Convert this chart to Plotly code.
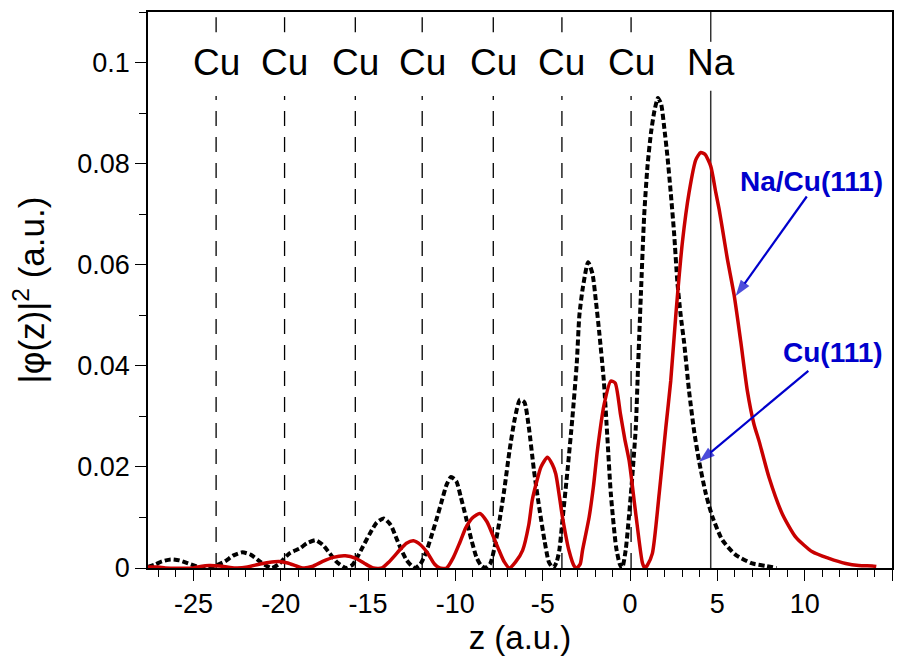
import plotly.graph_objects as go

# |phi(z)|^2 of the surface state, clean Cu(111)
cu_z = [-27.6, -27.2, -26.8, -26.3, -25.8, -25.3, -24.8, -24.3,
        -23.8, -23.2, -22.7, -22.2, -21.7, -21.2, -20.8, -20.5,
        -20.1, -19.5, -18.9, -18.5, -18.0, -17.6, -17.2, -16.8, -16.45, -16.25,
        -15.9, -15.7, -15.3, -14.9, -14.5, -14.1, -13.7, -13.4, -13.1, -12.8, -12.5, -12.3,
        -12.0, -11.7, -11.4, -11.1, -10.8, -10.5, -10.25, -9.95, -9.7, -9.4, -9.1, -8.8, -8.55, -8.3,
        -8.0, -7.7, -7.5, -7.2, -6.9, -6.6, -6.3, -6.05, -5.8, -5.5, -5.2, -4.9, -4.65, -4.4,
        -4.2, -4.05, -3.87, -3.58, -3.3, -3.05, -2.9, -2.7, -2.4, -2.15, -1.95, -1.75, -1.5,
        -1.3, -1.1, -0.8, -0.6, -0.45,
        -0.25, 0.05, 0.33, 0.45, 0.62, 0.81, 1.0, 1.2, 1.4, 1.6, 1.78, 1.95, 2.14, 2.33,
        2.52, 2.71, 2.9, 3.1, 3.38, 3.67, 3.95, 4.34, 4.72, 5.29, 6.05, 7.0, 7.8, 8.4]
cu_psi2 = [0.0002, 0.0007, 0.0013, 0.0017, 0.0015, 0.0009, 0.0003, 0.0,
           0.0004, 0.0013, 0.0025, 0.0031, 0.0026, 0.0013, 0.0004, 0.0,
           0.0008, 0.0029, 0.0039, 0.0049, 0.0055, 0.0046, 0.0029, 0.0012, 0.0003, 0.0,
           0.0006, 0.0016, 0.0042, 0.0068, 0.0090, 0.0098, 0.0085, 0.0061, 0.0036, 0.0016, 0.0004, 0.0,
           0.0008, 0.0029, 0.0060, 0.0094, 0.0130, 0.0165, 0.0180, 0.0172, 0.0142, 0.0101, 0.0058, 0.0022, 0.0006, 0.0,
           0.0009, 0.0050, 0.0088, 0.0155, 0.0232, 0.0295, 0.0333, 0.0328, 0.0280, 0.0193, 0.0120, 0.0055, 0.0012, 0.0,
           0.0012, 0.0035, 0.0094, 0.0193, 0.0297, 0.0405, 0.0500, 0.0555, 0.0605, 0.0582, 0.0527, 0.0462, 0.0370,
           0.0260, 0.0147, 0.0042, 0.0009, 0.0,
           0.0035, 0.0147, 0.0278, 0.0390, 0.0540, 0.0697, 0.0795, 0.0861, 0.0905, 0.0930, 0.0918, 0.0874, 0.0815, 0.0743,
           0.0664, 0.0566, 0.0500, 0.0445, 0.0350, 0.0271, 0.0212, 0.0147, 0.0101, 0.0055, 0.0026, 0.0009, 0.0004, 0.0]

# |phi(z)|^2 of the quantum-well state, Na/Cu(111)
na_z = [-27.6, -27.0, -26.6, -25.0, -24.6, -24.1, -23.5, -22.9, -22.5,
        -21.9, -21.3, -20.7, -20.1, -19.6, -19.1, -18.7,
        -18.2, -17.6, -17.0, -16.3, -15.7, -15.2, -14.7,
        -14.2, -13.8, -13.2, -12.8, -12.4, -12.0, -11.6, -11.2, -10.9,
        -10.5, -10.1, -9.75, -9.4, -9.0, -8.6, -8.2, -7.8, -7.5, -7.2, -6.9,
        -6.55, -6.15, -5.8, -5.6, -5.35, -5.1, -4.73, -4.45, -4.25, -3.87, -3.5, -3.2, -3.05,
        -2.85, -2.72, -2.34, -2.1, -1.87, -1.48, -1.1, -0.85, -0.55, -0.3, -0.05, 0.33, 0.71, 0.85,
        1.0, 1.28, 1.67, 2.05, 2.33, 2.62, 3.0, 3.38, 3.77, 4.05, 4.3, 4.62, 4.91, 5.1, 5.29,
        5.57, 5.96, 6.34, 6.72, 7.1, 7.39, 7.96, 8.72, 9.49, 10.44, 11.39, 12.35, 13.1, 13.87, 14.1]
na_psi2 = [0.0002, 0.0002, 0.0, 0.0, 0.0003, 0.0005, 0.0004, 0.0001, 0.0,
           0.0002, 0.0007, 0.0011, 0.0013, 0.0010, 0.0004, 0.0,
           0.0003, 0.0013, 0.0021, 0.0024, 0.0019, 0.0009, 0.0,
           0.0, 0.0012, 0.0035, 0.0049, 0.0054, 0.0046, 0.0030, 0.0008, 0.0,
           0.0, 0.0022, 0.0050, 0.0080, 0.0100, 0.0108, 0.0092, 0.0060, 0.0035, 0.0012, 0.0,
           0.0012, 0.0035, 0.0085, 0.0134, 0.0170, 0.0200, 0.0219, 0.0205, 0.0186, 0.0101, 0.0035, 0.0004, 0.0,
           0.0008, 0.0035, 0.0101, 0.0160, 0.0232, 0.0324, 0.0370, 0.0366, 0.0305, 0.0255, 0.0212, 0.0107, 0.0010, 0.0,
           0.0006, 0.0029, 0.0147, 0.0278, 0.0370, 0.0500, 0.0645, 0.0743, 0.0808, 0.0822, 0.0818, 0.0795, 0.0743, 0.0710, 0.0671,
           0.0612, 0.0540, 0.0448, 0.0350, 0.0284, 0.0251, 0.0179, 0.0107, 0.0061, 0.0032, 0.0019, 0.0009, 0.0005, 0.0004, 0.0003]

# atomic layer positions (a.u.)
cu_layers = [-23.70, -19.78, -15.73, -11.90, -7.83, -3.90, 0.06]
na_layer = 4.62

x_ticks = [-25, -20, -15, -10, -5, 0, 5, 10, 15]
x_ticktext = ["-25", "-20", "-15", "-10", "-5", "0", "5", "10", "15"]
y_ticks = [0, 0.02, 0.04, 0.06, 0.08, 0.1]
y_ticktext = ["0", "0.02", "0.04", "0.06", "0.08", "0.1"]

# pointer arrows: (tail_z, tail_y) -> (head_z, head_y)
na_arrow_z = [10.12, 6.05]
na_arrow_y = [0.0735, 0.0538]
cu_arrow_z = [10.21, 3.95]
cu_arrow_y = [0.0390, 0.02095]

FONT = "Liberation Sans, Arial, sans-serif"
RED = "#C80000"
BLUE = "#0000CC"

fig = go.Figure()
fig.add_trace(go.Scatter(x=cu_z, y=cu_psi2, mode="lines", name="Cu(111)",
                         line=dict(color="black", width=4, dash="6px,3px", shape="spline", smoothing=0.6)))
fig.add_trace(go.Scatter(x=na_z, y=na_psi2, mode="lines", name="Na/Cu(111)",
                         line=dict(color=RED, width=3.5, shape="spline", smoothing=0.6)))

for az, ay in ((na_arrow_z, na_arrow_y), (cu_arrow_z, cu_arrow_y)):
    fig.add_trace(go.Scatter(x=az, y=ay, mode="lines+markers", hoverinfo="skip",
                             line=dict(color=BLUE, width=2.2),
                             marker=dict(symbol="arrow", size=[0, 17], angleref="previous",
                                         color=BLUE, line=dict(width=0))))

# layer markers, broken where the element labels sit
gap_lo, gap_hi, y_top = 0.0934, 0.106, 0.109
shapes = []
for zc in cu_layers:
    for y0, y1 in ((0, gap_lo), (gap_hi, y_top)):
        shapes.append(dict(type="line", xref="x", yref="y", x0=zc, x1=zc, y0=y0, y1=y1,
                           line=dict(color="black", width=1.3, dash="15px,11px"), layer="below"))
for y0, y1 in ((0, 0.0944), (0.1041, 0.11)):
    shapes.append(dict(type="line", xref="x", yref="y", x0=na_layer, x1=na_layer, y0=y0, y1=y1,
                       line=dict(color="#333333", width=1.5), layer="below"))

annotations = []
label_y = 0.1
for zc in cu_layers:
    annotations.append(dict(x=zc, y=label_y, xref="x", yref="y", text="Cu", showarrow=False,
                            font=dict(family=FONT, size=37, color="black")))
annotations.append(dict(x=na_layer, y=label_y, xref="x", yref="y", text="Na", showarrow=False,
                        font=dict(family=FONT, size=37, color="black")))

# curve labels
annotations.append(dict(x=10.41, y=0.0765, xref="x", yref="y", text="<b>Na/Cu(111)</b>", showarrow=False,
                        font=dict(family=FONT, size=28, color=BLUE)))
annotations.append(dict(x=11.65, y=0.0426, xref="x", yref="y", text="<b>Cu(111)</b>", showarrow=False,
                        font=dict(family=FONT, size=28, color=BLUE)))

axis_common = dict(showgrid=False, zeroline=False, showline=True, linecolor="black", linewidth=1.6,
                   mirror=True, ticks="outside", tickwidth=1.4, ticklen=11, tickcolor="black",
                   tickfont=dict(family=FONT, size=27, color="black"))

fig.update_layout(
    width=904, height=661,
    margin=dict(l=148, r=11, t=10, b=93),
    paper_bgcolor="white", plot_bgcolor="white",
    showlegend=False,
    shapes=shapes, annotations=annotations,
    xaxis=dict(range=[-27.6, 15], tickvals=x_ticks, ticktext=x_ticktext,
               title=dict(text="z (a.u.)", font=dict(family=FONT, size=33, color="black"), standoff=8),
               minor=dict(dtick=1, tick0=0, ticks="outside", ticklen=7, tickwidth=1.3, tickcolor="black"),
               **axis_common),
    yaxis=dict(range=[0, 0.11], tickvals=y_ticks, ticktext=y_ticktext,
               title=dict(text="|φ(z)|<sup>2</sup> (a.u.)", font=dict(family=FONT, size=35, color="black"),
                          standoff=22),
               minor=dict(dtick=0.01, tick0=0, ticks="outside", ticklen=7, tickwidth=1.3, tickcolor="black"),
               **axis_common),
)

fig.write_html("out.html")
